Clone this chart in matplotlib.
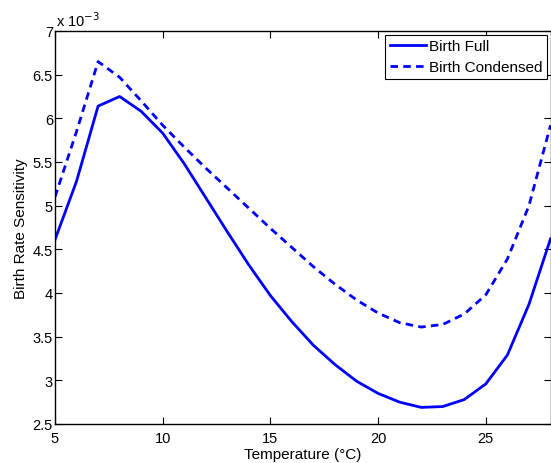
import matplotlib
matplotlib.use("Agg")
import matplotlib.pyplot as plt

plt.rcParams['font.family'] = ['Liberation Sans', 'DejaVu Sans']

temps = list(range(5, 29))
birth_full = [4.61, 5.28, 6.14, 6.25, 6.08, 5.83, 5.48, 5.09, 4.70, 4.32, 3.97,
              3.67, 3.40, 3.18, 2.99, 2.85, 2.75, 2.69, 2.70, 2.78, 2.96, 3.29,
              3.87, 4.62]
birth_condensed = [5.10, 5.85, 6.65, 6.47, 6.20, 5.92, 5.67, 5.43, 5.20, 4.97,
                   4.74, 4.52, 4.30, 4.10, 3.92, 3.77, 3.66, 3.61, 3.64, 3.76,
                   3.98, 4.39, 5.00, 5.92]
scale = 1e-3

fig = plt.figure(figsize=(5.51, 4.64), dpi=100)
ax = fig.add_axes([55/551, 39/464, (550.5-55)/551, (425-32)/464])
ax.plot(temps, [v*scale for v in birth_full], color='#0000ff', lw=2, label='Birth Full')
ax.plot(temps, [v*scale for v in birth_condensed], color='#0000ff', lw=2,
        ls=(0, (2.7, 1.9)), label='Birth Condensed')
ax.set_xlim(5, 28)
ax.set_ylim(2.5e-3, 7e-3)
ax.set_xticks([5, 10, 15, 20, 25])
yt = [2.5, 3, 3.5, 4, 4.5, 5, 5.5, 6, 6.5, 7]
ax.set_yticks([v*scale for v in yt])
ax.set_yticklabels([('%g' % v) for v in yt])
ax.tick_params(direction='in', top=True, right=True, labelsize=10.5, length=5, width=0.8)
ax.tick_params(axis='x', pad=5)
ax.tick_params(axis='y', pad=1.5)
for s in ax.spines.values():
    s.set_linewidth(1.0)
ax.set_xlabel('Temperature (°C)', fontsize=11, labelpad=1.5)
ax.set_ylabel('Birth Rate Sensitivity', fontsize=11, labelpad=3.5)
fig.text(56/551, 1-27/464, r'x 10$^{-3}$', fontsize=10.5, va='baseline', ha='left')
leg = ax.legend(loc='upper right', fontsize=11, fancybox=False, edgecolor='black',
                framealpha=1, borderaxespad=0.25, handlelength=2.4, borderpad=0.3,
                labelspacing=0.45, handletextpad=0.15)
leg.get_frame().set_linewidth(0.8)
fig.savefig('out.png', dpi=100)
